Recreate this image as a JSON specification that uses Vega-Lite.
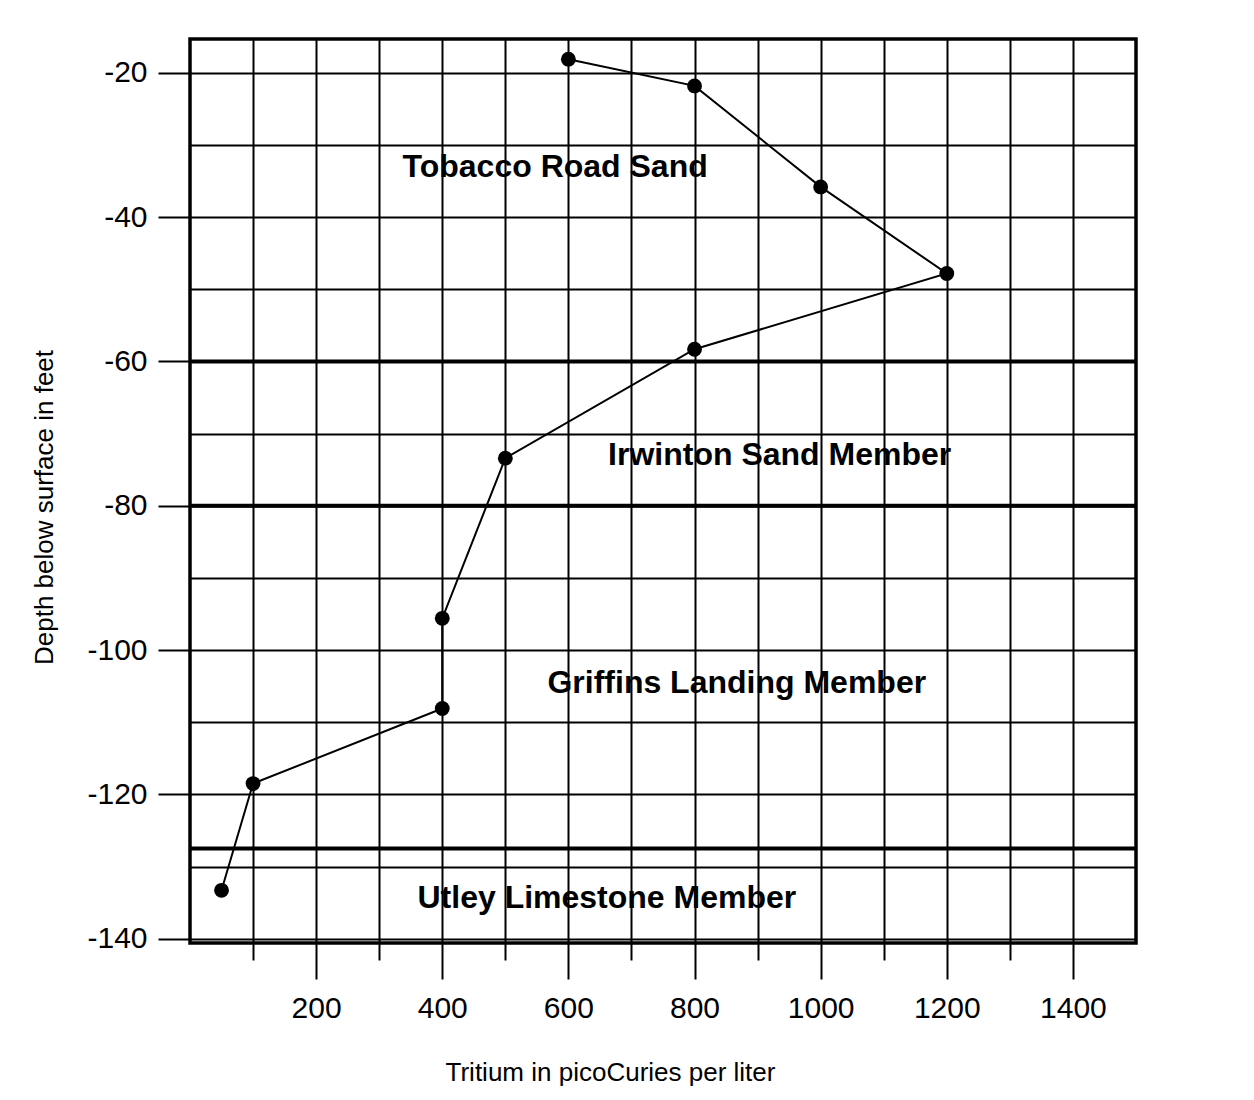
{
  "$schema": "https://vega.github.io/schema/vega-lite/v6.json",
  "width": 946,
  "height": 904,
  "autosize": {"type": "none"},
  "padding": {"left": 190, "top": 39, "right": 118, "bottom": 157},
  "background": "white",
  "config": {
    "view": {"stroke": "black", "strokeWidth": 3.5},
    "font": "Liberation Sans"
  },
  "datasets": {
    "profile": [
      {"seq": 1, "tritium": 600, "depth": -18.1},
      {"seq": 2, "tritium": 800, "depth": -21.8},
      {"seq": 3, "tritium": 1000, "depth": -35.8},
      {"seq": 4, "tritium": 1200, "depth": -47.8},
      {"seq": 5, "tritium": 800, "depth": -58.3},
      {"seq": 6, "tritium": 500, "depth": -73.4},
      {"seq": 7, "tritium": 400, "depth": -95.6},
      {"seq": 8, "tritium": 400, "depth": -108.1},
      {"seq": 9, "tritium": 100, "depth": -118.5},
      {"seq": 10, "tritium": 50, "depth": -133.3}
    ],
    "boundaries": [
      {"depth": -60},
      {"depth": -80},
      {"depth": -127.5}
    ],
    "units": [
      {"label": "Tobacco Road Sand", "tritium": 579, "depth": -34.4},
      {"label": "Irwinton Sand Member", "tritium": 935, "depth": -74.4},
      {"label": "Griffins Landing Member", "tritium": 867, "depth": -106.0},
      {"label": "Utley Limestone Member", "tritium": 661, "depth": -135.7}
    ]
  },
  "layer": [
    {
      "data": {"name": "profile"},
      "mark": {"type": "line", "color": "black", "strokeWidth": 2},
      "encoding": {
        "x": {
          "field": "tritium",
          "type": "quantitative",
          "scale": {"domain": [0, 1500], "nice": false, "zero": false},
          "axis": {
            "values": [100, 200, 300, 400, 500, 600, 700, 800, 900, 1000, 1100, 1200, 1300, 1400],
            "grid": true,
            "gridColor": "black",
            "gridWidth": 2,
            "gridOpacity": 1,
            "domain": false,
            "tickColor": "black",
            "tickWidth": 2,
            "tickSize": {"condition": {"test": "datum.value % 200 === 0", "value": 36}, "value": 17},
            "labelExpr": "datum.value % 200 === 0 ? '' + datum.value : ''",
            "labelFontSize": 30,
            "labelFont": "Liberation Sans",
            "labelColor": "black",
            "labelPadding": 14,
            "labelOverlap": false,
            "labelFlush": false,
            "labelBound": false,
            "title": "Tritium in picoCuries per liter",
            "titleFont": "Liberation Sans",
            "titleFontSize": 26,
            "titleFontWeight": "normal",
            "titleColor": "black",
            "titleX": 420,
            "titleY": 137,
            "titleAlign": "center",
            "titleBaseline": "alphabetic"
          }
        },
        "y": {
          "field": "depth",
          "type": "quantitative",
          "scale": {"domain": [-140.6, -15.3], "nice": false, "zero": false},
          "axis": {
            "values": [-140, -130, -120, -110, -100, -90, -80, -70, -60, -50, -40, -30, -20],
            "grid": true,
            "gridColor": "black",
            "gridWidth": 2,
            "gridOpacity": 1,
            "domain": false,
            "tickColor": "black",
            "tickWidth": 2,
            "tickSize": {"condition": {"test": "datum.value % 20 === 0", "value": 32}, "value": 0},
            "labelExpr": "datum.value % 20 === 0 ? '' + datum.value : ''",
            "labelFontSize": 30,
            "labelFont": "Liberation Sans",
            "labelColor": "black",
            "labelPadding": 11,
            "labelOverlap": false,
            "labelFlush": false,
            "labelBound": false,
            "title": "Depth below surface in feet",
            "titleFont": "Liberation Sans",
            "titleFontSize": 26,
            "titleFontWeight": "normal",
            "titleColor": "black",
            "titleX": -138,
            "titleY": 468,
            "titleAngle": 270,
            "titleAlign": "center",
            "titleBaseline": "alphabetic"
          }
        },
        "order": {"field": "seq", "type": "quantitative"}
      }
    },
    {
      "data": {"name": "boundaries"},
      "mark": {"type": "rule", "color": "black", "strokeWidth": 4},
      "encoding": {
        "y": {"field": "depth", "type": "quantitative"}
      }
    },
    {
      "data": {"name": "profile"},
      "mark": {"type": "circle", "color": "black", "opacity": 1, "size": 220},
      "encoding": {
        "x": {"field": "tritium", "type": "quantitative"},
        "y": {"field": "depth", "type": "quantitative"}
      }
    },
    {
      "data": {"name": "units"},
      "mark": {"type": "text", "font": "Liberation Sans", "fontWeight": "bold", "fontSize": 32, "align": "center", "baseline": "alphabetic", "color": "black"},
      "encoding": {
        "x": {"field": "tritium", "type": "quantitative"},
        "y": {"field": "depth", "type": "quantitative"},
        "text": {"field": "label"}
      }
    }
  ]
}
